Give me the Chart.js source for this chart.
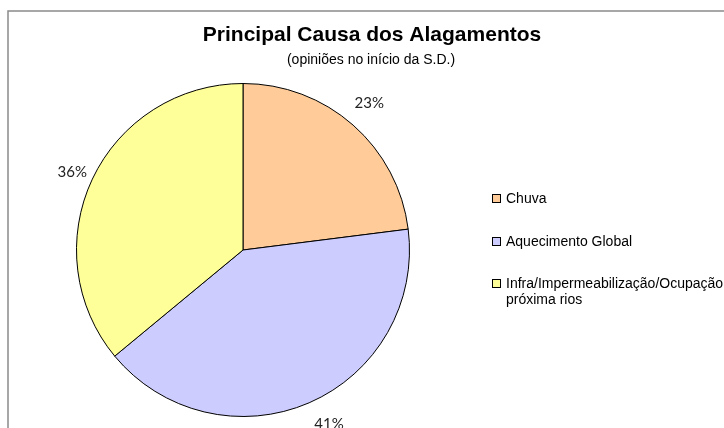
<!DOCTYPE html>
<html>
<head>
<meta charset="utf-8">
<style>
  html, body { margin: 0; padding: 0; background: #ffffff; }
  #wrap { width: 724px; height: 428px; }
</style>
<script src="https://cdn.jsdelivr.net/npm/chart.js@4.4.1/dist/chart.umd.min.js"></script>
</head>
<body>
<div id="wrap"><canvas id="c" width="724" height="428"></canvas></div>
<script>
const chartTitle = "Principal Causa dos Alagamentos";
const chartSubtitle = "(opiniões no início da S.D.)";
const categories = ["Chuva", "Aquecimento Global", ["Infra/Impermeabilização/Ocupação", "próxima rios"]];
const values = [23, 41, 36];
const colors = ["#FFCC99", "#CCCCFF", "#FFFF99"];

// label nudges (style only)
const labelNudge = [[3, -7], [12, 3], [-2, 2]];

const decorPlugin = {
  id: 'decor',
  beforeDraw(chart) {
    const ctx = chart.ctx;
    ctx.save();
    ctx.fillStyle = '#ffffff';
    ctx.fillRect(0, 0, chart.width, chart.height);
    ctx.strokeStyle = '#8a8a8a';
    ctx.lineWidth = 1.5;
    ctx.beginPath();
    ctx.moveTo(8, 440);
    ctx.lineTo(8, 11);
    ctx.lineTo(740, 11);
    ctx.stroke();
    ctx.restore();
  },
  afterDraw(chart) {
    const ctx = chart.ctx;
    ctx.save();
    // title
    ctx.fillStyle = '#000';
    ctx.textAlign = 'center';
    ctx.textBaseline = 'middle';
    ctx.font = 'bold 21px "Liberation Sans", Arial, sans-serif';
    ctx.fillText(chartTitle, 372, 35);
    ctx.font = '14px "Liberation Sans", Arial, sans-serif';
    ctx.fillText(chartSubtitle, 371, 60);

    // percent labels
    const meta = chart.getDatasetMeta(0);
    const total = values.reduce((a, b) => a + b, 0);
    ctx.font = '15px Lato, "Open Sans", sans-serif';
    ctx.fillStyle = '#222';
    meta.data.forEach((arc, i) => {
      const p = arc.getProps(['x', 'y', 'startAngle', 'endAngle', 'outerRadius'], true);
      const mid = (p.startAngle + p.endAngle) / 2;
      const R = p.outerRadius + 20;
      const x = p.x + Math.cos(mid) * R + labelNudge[i][0];
      const y = p.y + Math.sin(mid) * R + labelNudge[i][1];
      const pct = Math.round(values[i] / total * 100) + '%';
      ctx.fillText(pct, x, y);
    });

    // legend
    const itemY = [199, 242, 284];
    ctx.textAlign = 'left';
    ctx.font = '14px "Liberation Sans", Arial, sans-serif';
    categories.forEach((lab, i) => {
      const y = itemY[i];
      ctx.fillStyle = colors[i];
      ctx.fillRect(492.5, y - 4.5, 8, 8);
      ctx.strokeStyle = '#000';
      ctx.lineWidth = 1;
      ctx.strokeRect(492.5, y - 4.5, 8, 8);
      ctx.fillStyle = '#000';
      const lines = Array.isArray(lab) ? lab : [lab];
      lines.forEach((ln, k) => {
        ctx.fillText(ln, 506, y + k * 16);
      });
    });
    ctx.restore();
  }
};

new Chart(document.getElementById('c'), {
  type: 'pie',
  data: {
    labels: categories.map(l => Array.isArray(l) ? l.join(' ') : l),
    datasets: [{
      data: values,
      backgroundColor: colors,
      borderColor: '#000000',
      borderWidth: 1
    }]
  },
  options: {
    responsive: false,
    animation: false,
    devicePixelRatio: 1,
    layout: { padding: { top: 83, bottom: 11, left: 76, right: 314 } },
    plugins: {
      legend: { display: false },
      title: { display: false },
      tooltip: { enabled: false }
    }
  },
  plugins: [decorPlugin]
});
</script>
</body>
</html>
